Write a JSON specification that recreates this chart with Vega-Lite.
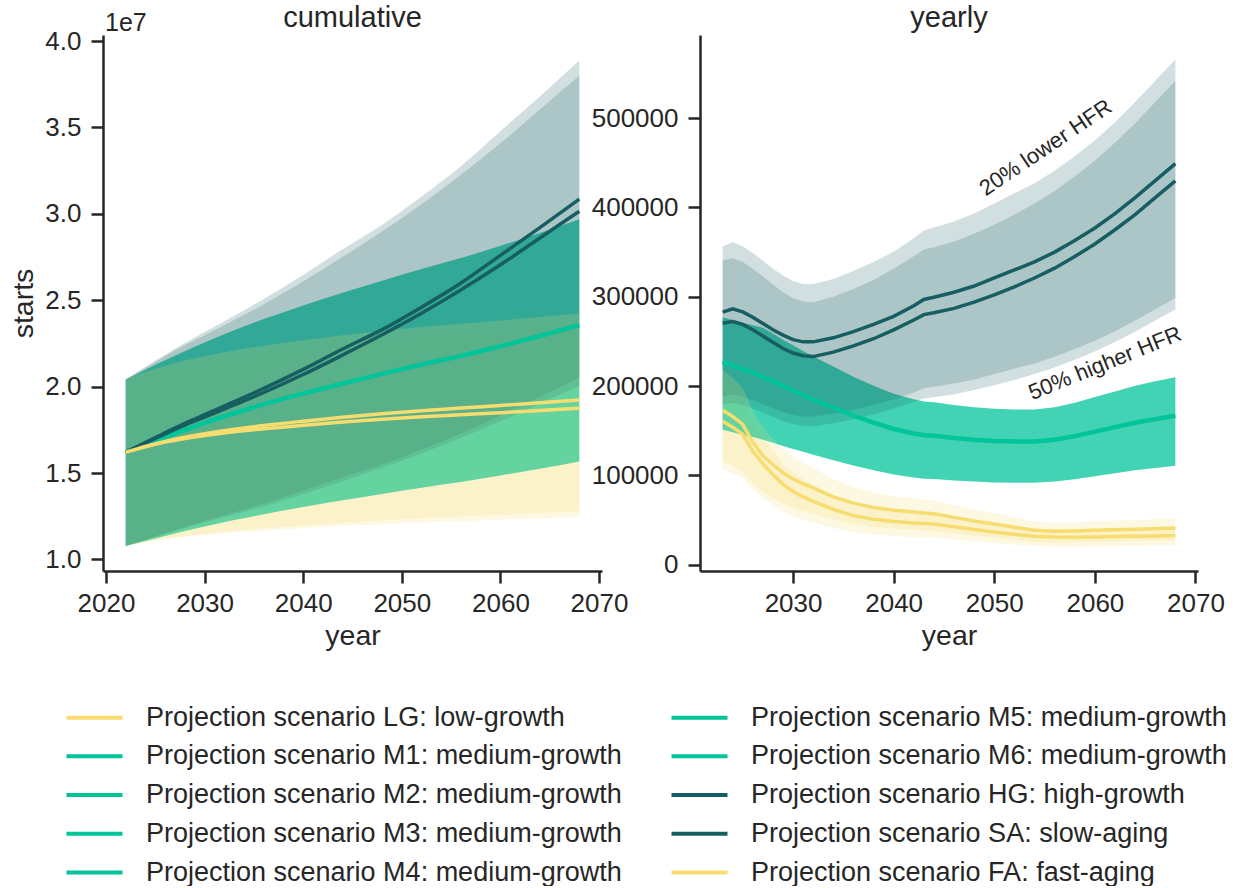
{
"$schema":"https://vega.github.io/schema/vega-lite/v6.json",
"background":"white",
"padding":{"left":9,"top":4,"right":0,"bottom":0},
"bounds":"flush",
"spacing":98,
"config":{
"font":"Liberation Sans",
"view":{"stroke":null},
"axis":{"grid":false,"domainColor":"#262626","domainWidth":2.5,"tickColor":"#262626","tickWidth":2.5,"tickSize":12,"labelFontSize":26,"labelColor":"#262626","titleFontSize":28.5,"titleFontWeight":"normal","titleColor":"#262626","labelFlush":false,"labelOverlap":false},
"title":{"fontSize":29,"fontWeight":"normal","color":"#262626","frame":"group","anchor":"middle"}
},
"datasets":{
"cum":[
{"s":"LG","year":2022,"v":1.620e7,"lo":1.077e7,"hi":2.041e7},
{"s":"LG","year":2024,"v":1.652e7,"lo":1.099e7,"hi":2.082e7},
{"s":"LG","year":2026,"v":1.679e7,"lo":1.117e7,"hi":2.116e7},
{"s":"LG","year":2028,"v":1.700e7,"lo":1.131e7,"hi":2.142e7},
{"s":"LG","year":2030,"v":1.717e7,"lo":1.142e7,"hi":2.163e7},
{"s":"LG","year":2033,"v":1.739e7,"lo":1.156e7,"hi":2.191e7},
{"s":"LG","year":2036,"v":1.756e7,"lo":1.168e7,"hi":2.213e7},
{"s":"LG","year":2040,"v":1.776e7,"lo":1.181e7,"hi":2.238e7},
{"s":"LG","year":2044,"v":1.795e7,"lo":1.194e7,"hi":2.262e7},
{"s":"LG","year":2048,"v":1.811e7,"lo":1.204e7,"hi":2.282e7},
{"s":"LG","year":2052,"v":1.825e7,"lo":1.214e7,"hi":2.300e7},
{"s":"LG","year":2056,"v":1.837e7,"lo":1.222e7,"hi":2.315e7},
{"s":"LG","year":2060,"v":1.849e7,"lo":1.230e7,"hi":2.330e7},
{"s":"LG","year":2064,"v":1.862e7,"lo":1.238e7,"hi":2.346e7},
{"s":"LG","year":2068,"v":1.875e7,"lo":1.247e7,"hi":2.363e7},
{"s":"M1","year":2022,"v":1.620e7,"lo":1.077e7,"hi":2.041e7},
{"s":"M1","year":2024,"v":1.665e7,"lo":1.107e7,"hi":2.098e7},
{"s":"M1","year":2026,"v":1.708e7,"lo":1.136e7,"hi":2.152e7},
{"s":"M1","year":2028,"v":1.750e7,"lo":1.164e7,"hi":2.205e7},
{"s":"M1","year":2030,"v":1.790e7,"lo":1.190e7,"hi":2.255e7},
{"s":"M1","year":2033,"v":1.846e7,"lo":1.228e7,"hi":2.326e7},
{"s":"M1","year":2036,"v":1.898e7,"lo":1.262e7,"hi":2.391e7},
{"s":"M1","year":2040,"v":1.960e7,"lo":1.303e7,"hi":2.470e7},
{"s":"M1","year":2044,"v":2.018e7,"lo":1.342e7,"hi":2.543e7},
{"s":"M1","year":2048,"v":2.074e7,"lo":1.379e7,"hi":2.613e7},
{"s":"M1","year":2052,"v":2.128e7,"lo":1.415e7,"hi":2.681e7},
{"s":"M1","year":2056,"v":2.178e7,"lo":1.448e7,"hi":2.744e7},
{"s":"M1","year":2060,"v":2.234e7,"lo":1.486e7,"hi":2.815e7},
{"s":"M1","year":2064,"v":2.293e7,"lo":1.525e7,"hi":2.889e7},
{"s":"M1","year":2068,"v":2.356e7,"lo":1.567e7,"hi":2.969e7},
{"s":"HG","year":2022,"v":1.620e7,"lo":1.077e7,"hi":2.041e7},
{"s":"HG","year":2024,"v":1.677e7,"lo":1.115e7,"hi":2.113e7},
{"s":"HG","year":2026,"v":1.733e7,"lo":1.152e7,"hi":2.184e7},
{"s":"HG","year":2028,"v":1.787e7,"lo":1.188e7,"hi":2.252e7},
{"s":"HG","year":2030,"v":1.838e7,"lo":1.222e7,"hi":2.316e7},
{"s":"HG","year":2033,"v":1.913e7,"lo":1.272e7,"hi":2.410e7},
{"s":"HG","year":2036,"v":1.990e7,"lo":1.323e7,"hi":2.507e7},
{"s":"HG","year":2040,"v":2.100e7,"lo":1.397e7,"hi":2.646e7},
{"s":"HG","year":2044,"v":2.218e7,"lo":1.475e7,"hi":2.795e7},
{"s":"HG","year":2048,"v":2.330e7,"lo":1.549e7,"hi":2.936e7},
{"s":"HG","year":2052,"v":2.460e7,"lo":1.636e7,"hi":3.100e7},
{"s":"HG","year":2056,"v":2.600e7,"lo":1.729e7,"hi":3.276e7},
{"s":"HG","year":2060,"v":2.760e7,"lo":1.835e7,"hi":3.478e7},
{"s":"HG","year":2064,"v":2.920e7,"lo":1.942e7,"hi":3.679e7},
{"s":"HG","year":2068,"v":3.085e7,"lo":2.052e7,"hi":3.887e7},
{"s":"SA","year":2022,"v":1.620e7,"lo":1.077e7,"hi":2.041e7},
{"s":"SA","year":2024,"v":1.674e7,"lo":1.113e7,"hi":2.109e7},
{"s":"SA","year":2026,"v":1.727e7,"lo":1.148e7,"hi":2.176e7},
{"s":"SA","year":2028,"v":1.777e7,"lo":1.182e7,"hi":2.239e7},
{"s":"SA","year":2030,"v":1.824e7,"lo":1.213e7,"hi":2.298e7},
{"s":"SA","year":2033,"v":1.894e7,"lo":1.260e7,"hi":2.386e7},
{"s":"SA","year":2036,"v":1.966e7,"lo":1.307e7,"hi":2.477e7},
{"s":"SA","year":2040,"v":2.070e7,"lo":1.377e7,"hi":2.608e7},
{"s":"SA","year":2044,"v":2.183e7,"lo":1.452e7,"hi":2.751e7},
{"s":"SA","year":2048,"v":2.300e7,"lo":1.530e7,"hi":2.898e7},
{"s":"SA","year":2052,"v":2.425e7,"lo":1.613e7,"hi":3.056e7},
{"s":"SA","year":2056,"v":2.560e7,"lo":1.702e7,"hi":3.226e7},
{"s":"SA","year":2060,"v":2.705e7,"lo":1.799e7,"hi":3.408e7},
{"s":"SA","year":2064,"v":2.860e7,"lo":1.902e7,"hi":3.604e7},
{"s":"SA","year":2068,"v":3.015e7,"lo":2.005e7,"hi":3.799e7},
{"s":"FA","year":2022,"v":1.620e7,"lo":1.077e7,"hi":2.041e7},
{"s":"FA","year":2024,"v":1.654e7,"lo":1.100e7,"hi":2.084e7},
{"s":"FA","year":2026,"v":1.683e7,"lo":1.119e7,"hi":2.121e7},
{"s":"FA","year":2028,"v":1.707e7,"lo":1.135e7,"hi":2.151e7},
{"s":"FA","year":2030,"v":1.727e7,"lo":1.148e7,"hi":2.176e7},
{"s":"FA","year":2033,"v":1.753e7,"lo":1.166e7,"hi":2.209e7},
{"s":"FA","year":2036,"v":1.775e7,"lo":1.180e7,"hi":2.237e7},
{"s":"FA","year":2040,"v":1.800e7,"lo":1.197e7,"hi":2.268e7},
{"s":"FA","year":2044,"v":1.823e7,"lo":1.212e7,"hi":2.297e7},
{"s":"FA","year":2048,"v":1.843e7,"lo":1.226e7,"hi":2.322e7},
{"s":"FA","year":2052,"v":1.861e7,"lo":1.238e7,"hi":2.345e7},
{"s":"FA","year":2056,"v":1.876e7,"lo":1.248e7,"hi":2.364e7},
{"s":"FA","year":2060,"v":1.891e7,"lo":1.258e7,"hi":2.383e7},
{"s":"FA","year":2064,"v":1.907e7,"lo":1.268e7,"hi":2.403e7},
{"s":"FA","year":2068,"v":1.923e7,"lo":1.279e7,"hi":2.423e7}
],
"yr":[
{"s":"HG","year":2023,"v":282.8e3,"lo":188.1e3,"hi":356.3e3},
{"s":"HG","year":2024,"v":286.5e3,"lo":190.5e3,"hi":361.0e3},
{"s":"HG","year":2025,"v":283.0e3,"lo":188.2e3,"hi":356.6e3},
{"s":"HG","year":2026,"v":277.0e3,"lo":184.2e3,"hi":349.0e3},
{"s":"HG","year":2027,"v":270.0e3,"lo":179.6e3,"hi":340.2e3},
{"s":"HG","year":2028,"v":263.0e3,"lo":174.9e3,"hi":331.4e3},
{"s":"HG","year":2029,"v":257.0e3,"lo":170.9e3,"hi":323.8e3},
{"s":"HG","year":2030,"v":252.0e3,"lo":167.6e3,"hi":317.5e3},
{"s":"HG","year":2031,"v":249.5e3,"lo":165.9e3,"hi":314.4e3},
{"s":"HG","year":2032,"v":249.5e3,"lo":165.9e3,"hi":314.4e3},
{"s":"HG","year":2034,"v":254.0e3,"lo":168.9e3,"hi":320.0e3},
{"s":"HG","year":2036,"v":261.0e3,"lo":173.6e3,"hi":328.9e3},
{"s":"HG","year":2038,"v":269.0e3,"lo":178.9e3,"hi":338.9e3},
{"s":"HG","year":2040,"v":278.0e3,"lo":184.9e3,"hi":350.3e3},
{"s":"HG","year":2042,"v":290.0e3,"lo":192.9e3,"hi":365.4e3},
{"s":"HG","year":2043,"v":297.0e3,"lo":197.5e3,"hi":374.2e3},
{"s":"HG","year":2044,"v":299.5e3,"lo":199.2e3,"hi":377.4e3},
{"s":"HG","year":2046,"v":305.0e3,"lo":202.8e3,"hi":384.3e3},
{"s":"HG","year":2048,"v":312.0e3,"lo":207.5e3,"hi":393.1e3},
{"s":"HG","year":2050,"v":321.0e3,"lo":213.5e3,"hi":404.5e3},
{"s":"HG","year":2052,"v":330.0e3,"lo":219.5e3,"hi":415.8e3},
{"s":"HG","year":2054,"v":339.0e3,"lo":225.4e3,"hi":427.1e3},
{"s":"HG","year":2056,"v":350.0e3,"lo":232.8e3,"hi":441.0e3},
{"s":"HG","year":2058,"v":363.0e3,"lo":241.4e3,"hi":457.4e3},
{"s":"HG","year":2060,"v":377.0e3,"lo":250.7e3,"hi":475.0e3},
{"s":"HG","year":2062,"v":393.0e3,"lo":261.3e3,"hi":495.2e3},
{"s":"HG","year":2064,"v":411.0e3,"lo":273.3e3,"hi":517.9e3},
{"s":"HG","year":2066,"v":430.0e3,"lo":286.0e3,"hi":541.8e3},
{"s":"HG","year":2068,"v":449.0e3,"lo":298.6e3,"hi":565.7e3},
{"s":"SA","year":2023,"v":270.4e3,"lo":179.8e3,"hi":340.7e3},
{"s":"SA","year":2024,"v":272.3e3,"lo":181.1e3,"hi":343.1e3},
{"s":"SA","year":2025,"v":269.0e3,"lo":178.9e3,"hi":338.9e3},
{"s":"SA","year":2026,"v":263.0e3,"lo":174.9e3,"hi":331.4e3},
{"s":"SA","year":2027,"v":256.0e3,"lo":170.2e3,"hi":322.6e3},
{"s":"SA","year":2028,"v":249.0e3,"lo":165.6e3,"hi":313.7e3},
{"s":"SA","year":2029,"v":242.0e3,"lo":160.9e3,"hi":304.9e3},
{"s":"SA","year":2030,"v":237.0e3,"lo":157.6e3,"hi":298.6e3},
{"s":"SA","year":2031,"v":234.0e3,"lo":155.6e3,"hi":294.8e3},
{"s":"SA","year":2032,"v":233.0e3,"lo":155.0e3,"hi":293.6e3},
{"s":"SA","year":2034,"v":238.0e3,"lo":158.3e3,"hi":299.9e3},
{"s":"SA","year":2036,"v":245.0e3,"lo":162.9e3,"hi":308.7e3},
{"s":"SA","year":2038,"v":253.0e3,"lo":168.2e3,"hi":318.8e3},
{"s":"SA","year":2040,"v":263.0e3,"lo":174.9e3,"hi":331.4e3},
{"s":"SA","year":2042,"v":274.0e3,"lo":182.2e3,"hi":345.2e3},
{"s":"SA","year":2043,"v":280.0e3,"lo":186.2e3,"hi":352.8e3},
{"s":"SA","year":2044,"v":282.0e3,"lo":187.5e3,"hi":355.3e3},
{"s":"SA","year":2046,"v":287.0e3,"lo":190.9e3,"hi":361.6e3},
{"s":"SA","year":2048,"v":294.0e3,"lo":195.5e3,"hi":370.4e3},
{"s":"SA","year":2050,"v":302.0e3,"lo":200.8e3,"hi":380.5e3},
{"s":"SA","year":2052,"v":311.0e3,"lo":206.8e3,"hi":391.9e3},
{"s":"SA","year":2054,"v":321.0e3,"lo":213.5e3,"hi":404.5e3},
{"s":"SA","year":2056,"v":332.0e3,"lo":220.8e3,"hi":418.3e3},
{"s":"SA","year":2058,"v":345.0e3,"lo":229.4e3,"hi":434.7e3},
{"s":"SA","year":2060,"v":359.0e3,"lo":238.7e3,"hi":452.3e3},
{"s":"SA","year":2062,"v":375.0e3,"lo":249.4e3,"hi":472.5e3},
{"s":"SA","year":2064,"v":392.0e3,"lo":260.7e3,"hi":493.9e3},
{"s":"SA","year":2066,"v":411.0e3,"lo":273.3e3,"hi":517.9e3},
{"s":"SA","year":2068,"v":429.7e3,"lo":285.8e3,"hi":541.4e3},
{"s":"M1","year":2023,"v":227.0e3,"lo":151.0e3,"hi":277.0e3},
{"s":"M1","year":2024,"v":223.0e3,"lo":148.3e3,"hi":274.0e3},
{"s":"M1","year":2025,"v":219.0e3,"lo":145.6e3,"hi":271.0e3},
{"s":"M1","year":2026,"v":215.0e3,"lo":143.0e3,"hi":268.0e3},
{"s":"M1","year":2027,"v":210.5e3,"lo":140.0e3,"hi":265.2e3},
{"s":"M1","year":2028,"v":205.5e3,"lo":136.7e3,"hi":258.9e3},
{"s":"M1","year":2029,"v":200.0e3,"lo":133.0e3,"hi":252.0e3},
{"s":"M1","year":2030,"v":195.0e3,"lo":129.7e3,"hi":245.7e3},
{"s":"M1","year":2031,"v":190.0e3,"lo":126.4e3,"hi":239.4e3},
{"s":"M1","year":2032,"v":185.0e3,"lo":123.0e3,"hi":233.1e3},
{"s":"M1","year":2034,"v":176.0e3,"lo":117.0e3,"hi":221.8e3},
{"s":"M1","year":2036,"v":167.0e3,"lo":111.1e3,"hi":210.4e3},
{"s":"M1","year":2038,"v":159.0e3,"lo":105.7e3,"hi":200.3e3},
{"s":"M1","year":2040,"v":152.0e3,"lo":101.1e3,"hi":191.5e3},
{"s":"M1","year":2042,"v":147.0e3,"lo":97.8e3,"hi":185.2e3},
{"s":"M1","year":2043,"v":145.0e3,"lo":96.4e3,"hi":182.7e3},
{"s":"M1","year":2044,"v":144.3e3,"lo":96.0e3,"hi":181.8e3},
{"s":"M1","year":2046,"v":142.0e3,"lo":94.4e3,"hi":178.9e3},
{"s":"M1","year":2048,"v":140.0e3,"lo":93.1e3,"hi":176.4e3},
{"s":"M1","year":2050,"v":138.5e3,"lo":92.1e3,"hi":174.5e3},
{"s":"M1","year":2052,"v":138.0e3,"lo":91.8e3,"hi":173.9e3},
{"s":"M1","year":2054,"v":138.0e3,"lo":91.8e3,"hi":173.9e3},
{"s":"M1","year":2056,"v":140.0e3,"lo":93.1e3,"hi":176.4e3},
{"s":"M1","year":2058,"v":144.0e3,"lo":95.8e3,"hi":181.4e3},
{"s":"M1","year":2060,"v":149.0e3,"lo":99.1e3,"hi":187.7e3},
{"s":"M1","year":2062,"v":154.0e3,"lo":102.4e3,"hi":194.0e3},
{"s":"M1","year":2064,"v":159.0e3,"lo":105.7e3,"hi":200.3e3},
{"s":"M1","year":2066,"v":163.0e3,"lo":108.4e3,"hi":205.4e3},
{"s":"M1","year":2068,"v":166.7e3,"lo":110.9e3,"hi":210.0e3},
{"s":"FA","year":2023,"v":173.0e3,"lo":115.0e3,"hi":218.0e3},
{"s":"FA","year":2024,"v":166.0e3,"lo":110.4e3,"hi":209.2e3},
{"s":"FA","year":2025,"v":157.0e3,"lo":104.4e3,"hi":197.8e3},
{"s":"FA","year":2026,"v":137.0e3,"lo":91.1e3,"hi":172.6e3},
{"s":"FA","year":2027,"v":122.0e3,"lo":81.1e3,"hi":153.7e3},
{"s":"FA","year":2028,"v":112.0e3,"lo":74.5e3,"hi":141.1e3},
{"s":"FA","year":2029,"v":103.0e3,"lo":68.5e3,"hi":129.8e3},
{"s":"FA","year":2030,"v":96.0e3,"lo":63.8e3,"hi":121.0e3},
{"s":"FA","year":2031,"v":90.5e3,"lo":60.2e3,"hi":114.0e3},
{"s":"FA","year":2032,"v":86.0e3,"lo":57.2e3,"hi":108.4e3},
{"s":"FA","year":2034,"v":76.0e3,"lo":50.5e3,"hi":95.8e3},
{"s":"FA","year":2036,"v":69.0e3,"lo":45.9e3,"hi":86.9e3},
{"s":"FA","year":2038,"v":64.0e3,"lo":42.6e3,"hi":80.6e3},
{"s":"FA","year":2040,"v":61.0e3,"lo":40.6e3,"hi":76.9e3},
{"s":"FA","year":2042,"v":59.0e3,"lo":39.2e3,"hi":74.3e3},
{"s":"FA","year":2043,"v":58.0e3,"lo":38.6e3,"hi":73.1e3},
{"s":"FA","year":2044,"v":57.0e3,"lo":37.9e3,"hi":71.8e3},
{"s":"FA","year":2046,"v":53.0e3,"lo":35.2e3,"hi":66.8e3},
{"s":"FA","year":2048,"v":49.0e3,"lo":32.6e3,"hi":61.7e3},
{"s":"FA","year":2050,"v":45.7e3,"lo":30.4e3,"hi":57.6e3},
{"s":"FA","year":2052,"v":42.0e3,"lo":27.9e3,"hi":52.9e3},
{"s":"FA","year":2054,"v":38.5e3,"lo":25.6e3,"hi":48.5e3},
{"s":"FA","year":2056,"v":37.5e3,"lo":24.9e3,"hi":47.3e3},
{"s":"FA","year":2058,"v":37.8e3,"lo":25.1e3,"hi":47.6e3},
{"s":"FA","year":2060,"v":38.5e3,"lo":25.6e3,"hi":48.5e3},
{"s":"FA","year":2062,"v":39.3e3,"lo":26.1e3,"hi":49.5e3},
{"s":"FA","year":2064,"v":39.8e3,"lo":26.5e3,"hi":50.1e3},
{"s":"FA","year":2066,"v":40.3e3,"lo":26.8e3,"hi":50.8e3},
{"s":"FA","year":2068,"v":41.0e3,"lo":27.3e3,"hi":51.7e3},
{"s":"LG","year":2023,"v":160.7e3,"lo":106.9e3,"hi":202.5e3},
{"s":"LG","year":2024,"v":154.0e3,"lo":102.4e3,"hi":194.0e3},
{"s":"LG","year":2025,"v":146.0e3,"lo":97.1e3,"hi":184.0e3},
{"s":"LG","year":2026,"v":127.0e3,"lo":84.5e3,"hi":160.0e3},
{"s":"LG","year":2027,"v":113.0e3,"lo":75.1e3,"hi":142.4e3},
{"s":"LG","year":2028,"v":101.0e3,"lo":67.2e3,"hi":127.3e3},
{"s":"LG","year":2029,"v":90.0e3,"lo":59.9e3,"hi":113.4e3},
{"s":"LG","year":2030,"v":82.0e3,"lo":54.5e3,"hi":103.3e3},
{"s":"LG","year":2031,"v":76.0e3,"lo":50.5e3,"hi":95.8e3},
{"s":"LG","year":2032,"v":71.0e3,"lo":47.2e3,"hi":89.5e3},
{"s":"LG","year":2034,"v":62.0e3,"lo":41.2e3,"hi":78.1e3},
{"s":"LG","year":2036,"v":55.0e3,"lo":36.6e3,"hi":69.3e3},
{"s":"LG","year":2038,"v":51.0e3,"lo":33.9e3,"hi":64.3e3},
{"s":"LG","year":2040,"v":48.5e3,"lo":32.3e3,"hi":61.1e3},
{"s":"LG","year":2042,"v":46.8e3,"lo":31.1e3,"hi":59.0e3},
{"s":"LG","year":2043,"v":46.2e3,"lo":30.7e3,"hi":58.2e3},
{"s":"LG","year":2044,"v":45.7e3,"lo":30.4e3,"hi":57.6e3},
{"s":"LG","year":2046,"v":42.5e3,"lo":28.3e3,"hi":53.6e3},
{"s":"LG","year":2048,"v":39.5e3,"lo":26.3e3,"hi":49.8e3},
{"s":"LG","year":2050,"v":36.5e3,"lo":24.3e3,"hi":46.0e3},
{"s":"LG","year":2052,"v":34.0e3,"lo":22.6e3,"hi":42.8e3},
{"s":"LG","year":2054,"v":32.0e3,"lo":21.3e3,"hi":40.3e3},
{"s":"LG","year":2056,"v":31.0e3,"lo":20.6e3,"hi":39.1e3},
{"s":"LG","year":2058,"v":30.8e3,"lo":20.5e3,"hi":38.8e3},
{"s":"LG","year":2060,"v":31.0e3,"lo":20.6e3,"hi":39.1e3},
{"s":"LG","year":2062,"v":31.5e3,"lo":21.0e3,"hi":39.7e3},
{"s":"LG","year":2064,"v":32.0e3,"lo":21.3e3,"hi":40.3e3},
{"s":"LG","year":2066,"v":32.3e3,"lo":21.5e3,"hi":40.7e3},
{"s":"LG","year":2068,"v":32.6e3,"lo":21.7e3,"hi":41.1e3}
]
},
"hconcat":[
{
"width":499,"height":536,
"title":{"text":"cumulative","offset":-22},
"data":{"name":"cum"},
"encoding":{"x":{"field":"year","type":"quantitative","title":"year","scale":{"domain":[2019.7,2070.3],"nice":false,"zero":false},"axis":{"values":[2020,2030,2040,2050,2060,2070],"format":"d","labelPadding":7,"titlePadding":5}}},
"layer":[
{"transform":[{"filter":"datum.s==='LG'"}],"mark":{"type":"area","color":"#f7dc6f","opacity":0.2,"interpolate":"monotone"},"encoding":{"y":{"field":"lo","type":"quantitative","title":"starts","scale":{"domain":[9330000,40350000],"nice":false,"zero":false},"axis":{"values":[10000000,15000000,20000000,25000000,30000000,35000000,40000000],"labelExpr":"format(datum.value/1e7,'.1f')","labelPadding":10,"titlePadding":6}},"y2":{"field":"hi"}}},
{"transform":[{"filter":"datum.s==='M1'"}],"mark":{"type":"area","color":"#00c49a","opacity":0.74,"interpolate":"monotone"},"encoding":{"y":{"field":"lo","type":"quantitative","title":"starts","scale":{"domain":[9330000,40350000],"nice":false,"zero":false}},"y2":{"field":"hi"}}},
{"transform":[{"filter":"datum.s==='HG'"}],"mark":{"type":"area","color":"#175e62","opacity":0.2,"interpolate":"monotone"},"encoding":{"y":{"field":"lo","type":"quantitative","title":"starts","scale":{"domain":[9330000,40350000],"nice":false,"zero":false}},"y2":{"field":"hi"}}},
{"transform":[{"filter":"datum.s==='SA'"}],"mark":{"type":"area","color":"#175e62","opacity":0.2,"interpolate":"monotone"},"encoding":{"y":{"field":"lo","type":"quantitative","title":"starts","scale":{"domain":[9330000,40350000],"nice":false,"zero":false}},"y2":{"field":"hi"}}},
{"transform":[{"filter":"datum.s==='FA'"}],"mark":{"type":"area","color":"#f7dc6f","opacity":0.2,"interpolate":"monotone"},"encoding":{"y":{"field":"lo","type":"quantitative","title":"starts","scale":{"domain":[9330000,40350000],"nice":false,"zero":false}},"y2":{"field":"hi"}}},
{"mark":{"type":"line","interpolate":"monotone"},"encoding":{"y":{"field":"v","type":"quantitative","title":"starts","scale":{"domain":[9330000,40350000],"nice":false,"zero":false}},
"strokeWidth":{"condition":{"test":"datum.s==='M1'","value":4.5},"value":3.5},
"color":{"field":"s","type":"nominal","scale":{"domain":["LG","M1","M2","M3","M4","M5","M6","HG","SA","FA"],"range":["#f7dc6f","#00c49a","#00c49a","#00c49a","#00c49a","#00c49a","#00c49a","#175e62","#175e62","#f7dc6f"]},
"legend":{"orient":"none","legendX":-22,"legendY":669,"columns":2,"title":null,"symbolType":"M-2.8,0H2.8","symbolSize":400,"symbolStrokeWidth":4,"labelFontSize":27,"labelLimit":800,"labelOffset":38,"rowPadding":10.75,"columnPadding":41,"labelColor":"#262626","labelExpr":"datum.label==='LG' ? 'Projection scenario LG: low-growth' : datum.label==='HG' ? 'Projection scenario HG: high-growth' : datum.label==='SA' ? 'Projection scenario SA: slow-aging' : datum.label==='FA' ? 'Projection scenario FA: fast-aging' : 'Projection scenario ' + datum.label + ': medium-growth'"}}}},
{"transform":[{"filter":"datum.s==='LG' && datum.year===2022"}],"mark":{"type":"text","text":"1e7","align":"left","baseline":"alphabetic","fontSize":25,"color":"#262626","dy":-4},"encoding":{"x":{"datum":2019.9},"y":{"datum":40350000}}}
]
},
{
"width":498,"height":536,
"title":{"text":"yearly","offset":2},
"data":{"name":"yr"},
"encoding":{"x":{"field":"year","type":"quantitative","title":"year","scale":{"domain":[2020.75,2070.25],"nice":false,"zero":false},"axis":{"values":[2030,2040,2050,2060,2070],"format":"d","labelPadding":7,"titlePadding":5}}},
"layer":[
{"transform":[{"filter":"datum.s==='LG'"}],"mark":{"type":"area","color":"#f7dc6f","opacity":0.2},"encoding":{"y":{"field":"lo","type":"quantitative","title":null,"scale":{"domain":[-7000,593000],"nice":false,"zero":false},"axis":{"values":[0,100000,200000,300000,400000,500000],"format":"d","labelPadding":10}},"y2":{"field":"hi"}}},
{"transform":[{"filter":"datum.s==='M1'"}],"mark":{"type":"area","color":"#00c49a","opacity":0.74},"encoding":{"y":{"field":"lo","type":"quantitative","title":null,"scale":{"domain":[-7000,593000],"nice":false,"zero":false}},"y2":{"field":"hi"}}},
{"transform":[{"filter":"datum.s==='HG'"}],"mark":{"type":"area","color":"#175e62","opacity":0.2},"encoding":{"y":{"field":"lo","type":"quantitative","title":null,"scale":{"domain":[-7000,593000],"nice":false,"zero":false}},"y2":{"field":"hi"}}},
{"transform":[{"filter":"datum.s==='SA'"}],"mark":{"type":"area","color":"#175e62","opacity":0.2},"encoding":{"y":{"field":"lo","type":"quantitative","title":null,"scale":{"domain":[-7000,593000],"nice":false,"zero":false}},"y2":{"field":"hi"}}},
{"transform":[{"filter":"datum.s==='FA'"}],"mark":{"type":"area","color":"#f7dc6f","opacity":0.2},"encoding":{"y":{"field":"lo","type":"quantitative","title":null,"scale":{"domain":[-7000,593000],"nice":false,"zero":false}},"y2":{"field":"hi"}}},
{"mark":{"type":"line"},"encoding":{"y":{"field":"v","type":"quantitative","title":null,"scale":{"domain":[-7000,593000],"nice":false,"zero":false}},
"strokeWidth":{"condition":{"test":"datum.s==='M1'","value":4.5},"value":3.5},
"color":{"field":"s","type":"nominal","scale":{"domain":["LG","M1","M2","M3","M4","M5","M6","HG","SA","FA"],"range":["#f7dc6f","#00c49a","#00c49a","#00c49a","#00c49a","#00c49a","#00c49a","#175e62","#175e62","#f7dc6f"]},
"legend":{"orient":"none","legendX":-22,"legendY":669,"columns":2,"title":null,"symbolType":"M-2.8,0H2.8","symbolSize":400,"symbolStrokeWidth":4,"labelFontSize":27,"labelLimit":800,"labelOffset":38,"rowPadding":10.75,"columnPadding":41,"labelColor":"#262626","labelExpr":"datum.label==='LG' ? 'Projection scenario LG: low-growth' : datum.label==='HG' ? 'Projection scenario HG: high-growth' : datum.label==='SA' ? 'Projection scenario SA: slow-aging' : datum.label==='FA' ? 'Projection scenario FA: fast-aging' : 'Projection scenario ' + datum.label + ': medium-growth'"}}}},
{"transform":[{"filter":"datum.s==='HG' && datum.year===2023"}],"mark":{"type":"text","text":"20% lower HFR","angle":326,"fontSize":22,"color":"#262626","align":"center","baseline":"middle"},"encoding":{"x":{"datum":2055.1},"y":{"datum":467000}}},
{"transform":[{"filter":"datum.s==='HG' && datum.year===2023"}],"mark":{"type":"text","text":"50% higher HFR","angle":338,"fontSize":22,"color":"#262626","align":"center","baseline":"middle"},"encoding":{"x":{"datum":2061.0},"y":{"datum":225500}}}
]
}
]
}
